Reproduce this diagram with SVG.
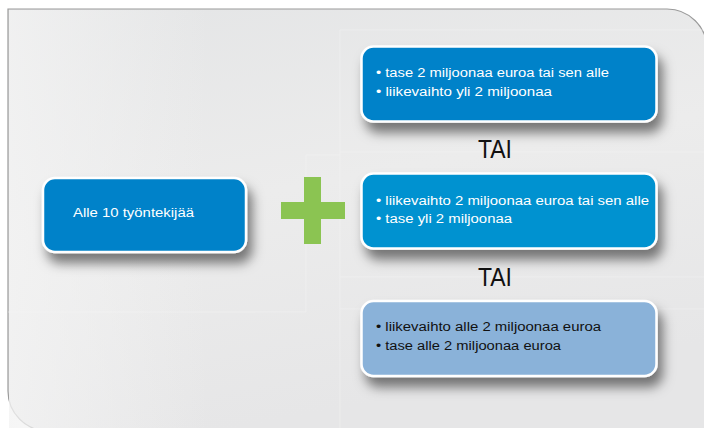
<svg xmlns="http://www.w3.org/2000/svg" width="704" height="428" viewBox="0 0 704 428">
<defs>
<linearGradient id="panelG" x1="0" y1="0" x2="0.3" y2="1">
<stop offset="0" stop-color="#e4e5e6"/>
<stop offset="0.5" stop-color="#ececec"/>
<stop offset="1" stop-color="#e6e6e7"/>
</linearGradient>
<linearGradient id="leftG" x1="0" y1="0" x2="1" y2="0">
<stop offset="0" stop-color="#f3f3f3" stop-opacity="0.8"/>
<stop offset="1" stop-color="#f3f3f3" stop-opacity="0"/>
</linearGradient>
<filter id="sh" x="-20%" y="-30%" width="150%" height="200%">
<feDropShadow dx="5" dy="10" stdDeviation="6" flood-color="#000" flood-opacity="0.5"/>
</filter>
<style>
.box{stroke:#fff;stroke-width:2.5}
.t{font-family:"Liberation Sans",Arial,sans-serif;font-size:12px;fill:#fff}
.tai{font-family:"Liberation Sans",Arial,sans-serif;font-size:26px;fill:#111}
.grid{stroke:#f4f4f4;stroke-width:1;fill:none;opacity:0.45}
</style>
</defs>
<rect width="704" height="428" fill="#fff"/>
<path d="M8 9 H667 A40 40 0 0 1 707 49 V431 H48 A40 40 0 0 1 8 391 Z" fill="url(#panelG)" stroke="#9a9a9a" stroke-width="1.2"/>
<rect x="9" y="10" width="200" height="420" fill="url(#leftG)"/>
<g class="grid">
<path d="M340 30 H704 M340 30 V428"/>
<path d="M340 152 H704 M340 277 H704 M340 309 H704"/>
<path d="M306 155 V312 H8 M306 155 H340"/>
</g>
<g id="connectors"></g>
<g id="left">
<rect class="box" x="43" y="178" width="203" height="74" rx="12" fill="#0082c9" filter="url(#sh)"/>
<text class="t" x="73" y="217" textLength="121" lengthAdjust="spacingAndGlyphs">Alle 10 työntekijää</text>
</g>
<g id="plus" fill="#8bc452">
<rect x="304" y="177" width="17" height="67"/>
<rect x="281" y="202" width="64" height="17"/>
</g>
<g id="box1">
<rect class="box" x="361.5" y="46.5" width="295" height="75" rx="12" fill="#0082c9" filter="url(#sh)"/>
<text class="t" x="376" y="77" textLength="233" lengthAdjust="spacingAndGlyphs">• tase 2 miljoonaa euroa tai sen alle</text>
<text class="t" x="376" y="96" textLength="176" lengthAdjust="spacingAndGlyphs">• liikevaihto yli 2 miljoonaa</text>
</g>
<g id="tai1">
<text class="tai" x="478" y="158" textLength="34" lengthAdjust="spacingAndGlyphs">TAI</text>
</g>
<g id="box2">
<rect class="box" x="361.5" y="173.5" width="295" height="75" rx="12" fill="#0092d0" filter="url(#sh)"/>
<text class="t" x="376" y="205" textLength="273" lengthAdjust="spacingAndGlyphs">• liikevaihto 2 miljoonaa euroa tai sen alle</text>
<text class="t" x="376" y="223" textLength="136" lengthAdjust="spacingAndGlyphs">• tase yli 2 miljoonaa</text>
</g>
<g id="tai2">
<text class="tai" x="478" y="286" textLength="34" lengthAdjust="spacingAndGlyphs">TAI</text>
</g>
<g id="box3">
<rect class="box" x="361.5" y="301" width="295" height="75" rx="12" fill="#8ab2d9" stroke="#f0f2f4" filter="url(#sh)"/>
<text class="t" x="376" y="331" style="fill:#111" textLength="225" lengthAdjust="spacingAndGlyphs">• liikevaihto alle 2 miljoonaa euroa</text>
<text class="t" x="376" y="350" style="fill:#111" textLength="185" lengthAdjust="spacingAndGlyphs">• tase alle 2 miljoonaa euroa</text>
</g>
</svg>
